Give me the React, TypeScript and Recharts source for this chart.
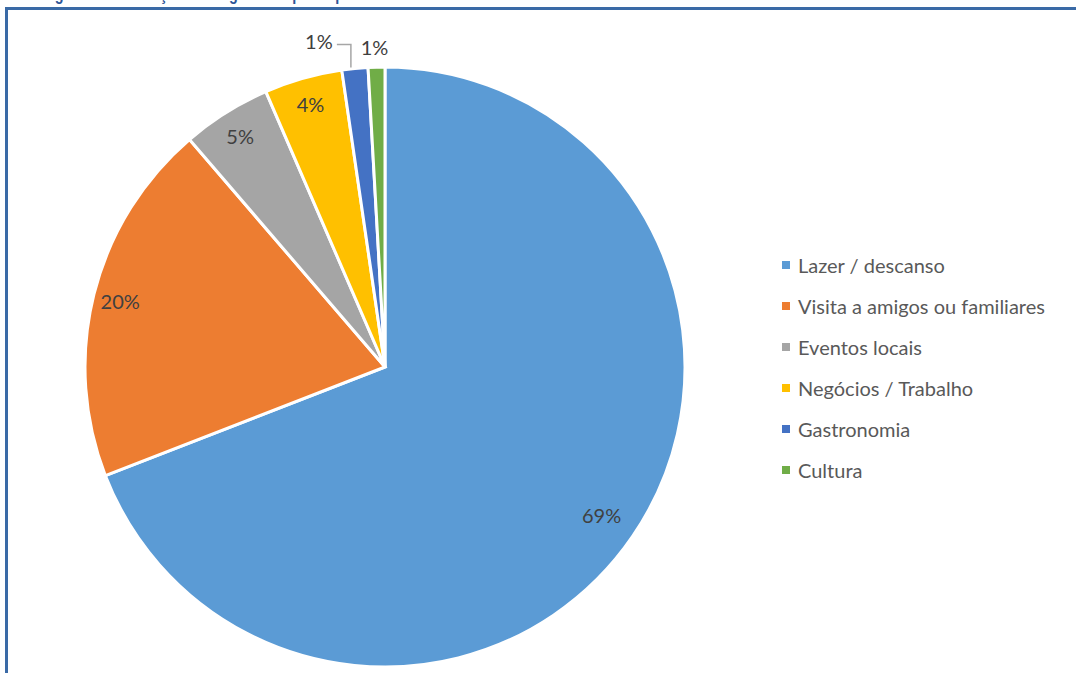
import React from "react";
import { PieChart, Pie, Cell } from "recharts";

const categories = [
  "Lazer / descanso",
  "Visita a amigos ou familiares",
  "Eventos locais",
  "Negócios / Trabalho",
  "Gastronomia",
  "Cultura",
];
const shares = [69.1, 19.6, 4.8, 4.2, 1.4, 0.9];
const colors = ["#5B9BD5", "#ED7D31", "#A5A5A5", "#FFC000", "#4472C4", "#70AD47"];
const titleText = "Figura 1 – Motivação da viagem dos participantes";

const data = categories.map((name, i) => ({ name, value: shares[i] }));

const FONT = "Lato, 'Open Sans', sans-serif";
const RAD = Math.PI / 180;

const renderLabel = (props: any) => {
  const { cx, cy, midAngle, outerRadius, percent, index } = props;
  const txt = `${Math.round(percent * 100)}%`;
  const cos = Math.cos(-midAngle * RAD);
  const sin = Math.sin(-midAngle * RAD);
  if (percent >= 0.02) {
    const r = outerRadius * (index === 0 ? 0.875 : 0.91);
    return (
      <text x={cx + r * cos} y={cy + r * sin} fill="#404040" fontSize={20} fontFamily={FONT}
        textAnchor="middle" dominantBaseline="central">{txt}</text>
    );
  }
  const ex = cx + outerRadius * cos;
  const ey = cy + outerRadius * sin;
  if (index === 4) {
    const ty = ey - 24;
    return (
      <g>
        <polyline points={`${ex - 4},${ey - 1} ${ex - 4},${ty} ${ex - 18},${ty}`} fill="none" stroke="#A6A6A6" strokeWidth={1.5} />
        <text x={ex - 36} y={ty - 4} fill="#404040" fontSize={20} fontFamily={FONT}
          textAnchor="middle" dominantBaseline="central">{txt}</text>
      </g>
    );
  }
  return (
    <text x={ex - 2} y={ey - 20} fill="#404040" fontSize={20} fontFamily={FONT}
      textAnchor="middle" dominantBaseline="central">{txt}</text>
  );
};

export default function App() {
  return (
    <div style={{ position: "absolute", left: 0, top: 0, width: 1076, height: 673, background: "#fff", overflow: "hidden" }}>
      <svg width={1076} height={6} style={{ position: "absolute", left: 0, top: 0, overflow: "hidden" }}>
        <text x={42} y={0} fill="#2F5597" fontSize={18} fontWeight="bold" fontFamily="'Liberation Sans', sans-serif"
          transform="translate(42,0) scale(0.8,1) translate(-42,0)">{titleText}</text>
      </svg>
      <div style={{ position: "absolute", left: 5, top: 7, width: 1200, height: 800, borderTop: "3px solid #3A6AA6", borderLeft: "3px solid #3A6AA6" }} />
      <div style={{ position: "absolute", left: 0, top: 0 }}>
        <PieChart width={1076} height={673} margin={{ top: 0, right: 0, bottom: 0, left: 0 }}>
          <Pie
            data={data}
            dataKey="value"
            nameKey="name"
            cx={385}
            cy={367}
            outerRadius={300}
            startAngle={90}
            endAngle={-270}
            stroke="#FFFFFF"
            strokeWidth={3}
            label={renderLabel}
            labelLine={false}
            isAnimationActive={false}
          >
            {data.map((d, i) => (
              <Cell key={d.name} fill={colors[i]} />
            ))}
          </Pie>
        </PieChart>
      </div>
      <div style={{ position: "absolute", left: 782, top: 244, width: 292, fontFamily: FONT }}>
        {categories.map((c, i) => (
          <div key={c} style={{ display: "flex", alignItems: "center", height: 41, color: "#595959", fontSize: 20, whiteSpace: "nowrap" }}>
            <span style={{ display: "inline-block", width: 8, height: 8, background: colors[i], marginRight: 8 }} />
            <span>{c}</span>
          </div>
        ))}
      </div>
    </div>
  );
}
